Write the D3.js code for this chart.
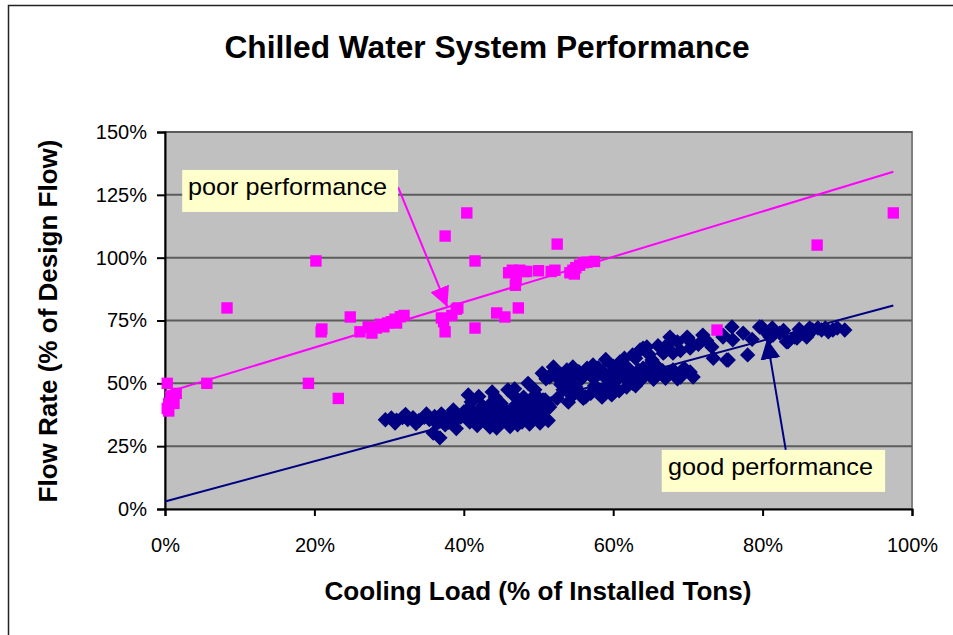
<!DOCTYPE html>
<html>
<head>
<meta charset="utf-8">
<script src="https://cdn.jsdelivr.net/npm/d3@7"></script>
<style>
    body { margin: 0; background: #fff; }
    svg { display: block; font-family: 'Liberation Sans', Arial, sans-serif; }
</style>
</head>
<body>
<div id="chart"></div>
<script>
// tick values (% of installed tons / % of design flow)
const xTicks = [0, 20, 40, 60, 80, 100];
const yTicks = [0, 25, 50, 75, 100, 125, 150];

// poor performance: [cooling load %, flow rate %]
const poorData = [
    [0.3, 50], [0.3, 40], [0.5, 42], [0.8, 45], [1.5, 46], [1.2, 42], [0.5, 39], [0.8, 43.5],
    [5.6, 50], [8.3, 80], [19.2, 50], [20.2, 98.7], [20.9, 70.5], [21, 71.6], [23.2, 44], [24.8, 76.4],
    [26.1, 70.5], [27.2, 72.5], [27.7, 70], [28.3, 72], [28.8, 73.5], [29.3, 72.5], [29.8, 74],
    [30.3, 74.5], [30.8, 75.5], [31.5, 76.5], [32, 77], [31, 74],
    [37, 76], [37.5, 70.5], [37.3, 74.5], [37.5, 108.6], [38.4, 77], [39, 79.5], [39.2, 80],
    [40.4, 117.8], [41.5, 98.7], [41.5, 72], [44.4, 78], [45.5, 76.4], [47.3, 80],
    [46, 94], [46.5, 95], [47, 93.5], [47.5, 95], [48, 94.5], [46.9, 89], [47, 91], [48.4, 94.5],
    [50, 94.8], [51.7, 94.5], [52.2, 95], [52.5, 105.4],
    [54.2, 94], [54.6, 95], [55, 96], [55.5, 97], [56, 98], [56.5, 98.2], [57.5, 98.5], [54.8, 93.5],
    [73.9, 71.2], [87.3, 105], [97.5, 117.8]
];

// good performance: [cooling load %, flow rate %]
const goodData = [
    // low-load band
    [29.5, 35.5], [30.3, 36.2], [31, 35.3], [31.8, 36.4], [32.5, 35.6], [33.2, 36.3], [34, 35.2],
    [34.7, 36.5], [35.4, 35.6], [36.1, 36.8], [36.8, 35.2], [37.5, 36.3], [38.2, 37.2], [38.9, 35.4],
    [39.6, 36.6], [40.3, 37.8], [40.8, 34.6], [41.5, 36.2], [42.2, 38.2], [42.9, 35.2], [43.6, 36.8],
    [44.3, 34.4], [45, 37.5], [45.7, 35.5], [46.4, 38.4], [47.1, 36.2], [47.8, 34.6], [48.5, 37.6],
    [49.2, 35.5], [49.9, 38.8], [50.6, 36.4], [51.3, 35.2], [38, 34.5], [40, 38.6], [42, 35.5],
    [44, 39.2], [46, 35], [48, 39.5], [43, 37.8], [41, 36.8], [39, 38], [37, 37.8],
    [30.8, 34.2], [32.2, 37.6], [33.6, 34], [35, 37.8], [36.4, 34], [38.6, 39.4], [40.6, 40],
    [41.2, 38.8], [42.6, 40.5], [44.8, 40.8], [45.5, 39.6], [46.8, 41], [48.2, 41.5], [49, 42],
    [47.5, 39], [43.8, 42.5], [44.6, 33.8], [46.2, 32.8], [48.8, 33.8], [50.2, 34.2], [50.8, 38.8],
    [35.9, 30.2], [36.8, 28.3], [39, 32], [43.5, 32.6], [44.4, 32.2], [37.5, 33.5], [41.8, 33.2], [47.2, 33.5],
    [40.6, 45.4], [41, 42.6], [43.8, 46.6], [44.2, 44.6], [45.9, 47.4], [46.6, 45.4], [48.6, 50],
    [49.5, 47.4], [51.5, 52.5], [52, 54], [51.3, 41.4], [50.6, 43.4], [49.3, 40.6], [42.5, 41],
    [45, 42], [47.5, 43], [43, 39.8], [49.6, 45.5], [48, 44.5], [46.8, 47.8], [42, 44.8],
    // transition
    [49.3, 44.6], [50.2, 40.6], [51.1, 42], [50.9, 43.4], [51.5, 40.6], [53.3, 47.4], [53.8, 48],
    [55.6, 46], [56, 44], [56.3, 44.6], [58.2, 47.4], [59.8, 45.4], [60, 50], [61.8, 48.5],
    [61.8, 51.3], [62.6, 50], [57, 46], [54.5, 45], [64, 52.5], [65.5, 53],
    [52.5, 44], [54, 42.5], [55, 48.5], [57.5, 49], [59, 48], [58.5, 44.5], [60.8, 47], [63, 49], [53, 49.5],
    // mid-load band
    [50.5, 54], [51.5, 53], [52.3, 55], [53, 53.6], [53.8, 55.3], [54.6, 53.2], [55.4, 54.6],
    [56.2, 53.4], [57, 55.2], [57.8, 53.8], [58.6, 54.8], [59.4, 53.2], [60.2, 55], [61, 53.6],
    [61.8, 54.8], [62.6, 53.2], [63.4, 55.2], [64.2, 53.6], [65, 54.6], [65.8, 53.2], [66.6, 55],
    [67.4, 53.8], [68.2, 54.6], [69, 52.5], [70.3, 54.5], [70.7, 52.5], [67.6, 54], [68, 55.3],
    [54.6, 56.5], [58, 56.2], [62, 56],
    [51, 51.8], [52.6, 52], [54.2, 51.6], [55.8, 52], [57.4, 51.8], [59, 52], [60.6, 51.8], [62.2, 52],
    [63.8, 51.6], [65.4, 51.6], [67, 52], [68.6, 51.8], [52, 56.5], [56.5, 56], [60, 56.8], [64, 56],
    [66, 56.4], [69.5, 56],
    // high-load
    [57.3, 57.3], [60.9, 58.5], [62.6, 61.3], [63.6, 63.3], [64, 64], [64.5, 64.5], [65.2, 59.3],
    [65.2, 58.5], [66.7, 62], [66.9, 62.5], [67.2, 65.3], [67.6, 68.4], [68, 62], [69.9, 68.4],
    [70, 68], [70.3, 64], [70.5, 66], [72, 69.2], [73.2, 64.5], [73.4, 60], [74.7, 69.2],
    [74.7, 68.4], [75.2, 59.3], [75.4, 59.3], [75.9, 72.4], [76, 67.3], [77.4, 70], [78, 61.3],
    [79.6, 72.4], [79.9, 72.4], [81, 68.4], [81.3, 72], [81.4, 69.2], [82.3, 70], [83.2, 66.5],
    [83.4, 66.5], [84.3, 68.4], [84.6, 68], [85.4, 70], [85.9, 68.4], [86.3, 72], [86.7, 71.2],
    [87.4, 72], [87.9, 71.2], [88.4, 72], [89.4, 71.2], [91, 71.2], [59, 59.5], [61, 57], [63, 60],
    [61.5, 60], [64.8, 61.5], [66, 65], [68.6, 66.5], [69, 63], [71.4, 65.5], [72.5, 67],
    [78.6, 67.5], [80.4, 70.5], [82.8, 71], [84.9, 71.5], [86, 69], [88.8, 70.5], [90, 72]
];

// linear trend lines (start and end of fitted line)
const trendLoad = [0, 97.5];
const poorTrend = [46.2, 134.2];
const goodTrend = [3, 81];

const noteLabels = ['poor performance', 'good performance'];

const width = 953, height = 635;
const plot = { left: 165, right: 912, top: 132, bottom: 509 };

const svg = d3.select('#chart').append('svg')
    .attr('width', width)
    .attr('height', height);

// outer chart frame
svg.append('rect')
    .attr('x', 8.5).attr('y', 5.5)
    .attr('width', 960).attr('height', 660)
    .attr('fill', 'none')
    .attr('stroke', '#222')
    .attr('stroke-width', 1.5);

const x = d3.scaleLinear().domain([0, 100]).range([plot.left, plot.right]);
const y = d3.scaleLinear().domain([0, 150]).range([plot.bottom, plot.top]);

// plot area background
svg.append('rect')
    .attr('x', plot.left).attr('y', plot.top)
    .attr('width', plot.right - plot.left)
    .attr('height', plot.bottom - plot.top)
    .attr('fill', '#c0c0c0')
    .attr('stroke', '#808080')
    .attr('stroke-width', 2);

// gridlines
svg.append('g')
    .selectAll('line')
    .data(yTicks.filter(d => d > 0))
    .join('line')
    .attr('x1', plot.left).attr('x2', plot.right)
    .attr('y1', d => y(d)).attr('y2', d => y(d))
    .attr('stroke', '#5c5c5c')
    .attr('stroke-width', 2);

// axes
const yAxis = d3.axisLeft(y)
    .tickValues(yTicks)
    .tickSize(8)
    .tickPadding(10)
    .tickFormat(d => d + '%');

const xAxis = d3.axisBottom(x)
    .tickValues(xTicks)
    .tickSize(7)
    .tickPadding(22)
    .tickFormat(d => d + '%');

const yAxisG = svg.append('g')
    .attr('transform', `translate(${plot.left},0)`)
    .call(yAxis);

const xAxisG = svg.append('g')
    .attr('transform', `translate(0,${plot.bottom})`)
    .call(xAxis);

[xAxisG, yAxisG].forEach(g => {
    g.select('.domain').attr('stroke', '#000').attr('stroke-width', 2);
    g.selectAll('.tick line').attr('stroke', '#000').attr('stroke-width', 2);
    g.selectAll('.tick text')
        .attr('fill', '#000')
        .style('font-size', '20px')
        .style('font-family', "'Liberation Sans', Arial, sans-serif");
});

// good performance points (navy diamonds)
svg.append('g')
    .selectAll('path')
    .data(goodData)
    .join('path')
    .attr('d', d3.symbol().type(d3.symbolSquare).size(118))
    .attr('transform', d => `translate(${x(d[0])},${y(d[1])}) rotate(45)`)
    .attr('fill', '#000080');

// poor performance points (magenta squares)
svg.append('g')
    .selectAll('path')
    .data(poorData)
    .join('path')
    .attr('d', d3.symbol().type(d3.symbolSquare).size(130))
    .attr('transform', d => `translate(${x(d[0])},${y(d[1])})`)
    .attr('fill', '#ff00ff');

// trend lines
const line = d3.line()
    .x(d => x(d[0]))
    .y(d => y(d[1]));

svg.append('path')
    .datum(trendLoad.map((d, i) => [d, poorTrend[i]]))
    .attr('d', line)
    .attr('fill', 'none')
    .attr('stroke', '#ff00ff')
    .attr('stroke-width', 2);

svg.append('path')
    .datum(trendLoad.map((d, i) => [d, goodTrend[i]]))
    .attr('d', line)
    .attr('fill', 'none')
    .attr('stroke', '#000080')
    .attr('stroke-width', 2);

// arrow heads
const defs = svg.append('defs');
[['poorHead', '#ff00ff'], ['goodHead', '#000080']].forEach(([id, col]) => {
    defs.append('marker')
        .attr('id', id)
        .attr('viewBox', '0 -10 20 20')
        .attr('refX', 20).attr('refY', 0)
        .attr('markerWidth', 20).attr('markerHeight', 20)
        .attr('markerUnits', 'userSpaceOnUse')
        .attr('orient', 'auto')
        .append('path')
        .attr('d', 'M0,-10L20,0L0,10Z')
        .attr('fill', col);
});

// annotations: box in data units [x0, y0, x1, y1], arrow from -> to
const notes = [
    { text: noteLabels[0], box: [2.3, 134.9, 31.2, 118.2], from: [31.2, 128.1], to: [37.8, 80.4],
      color: '#ff00ff', marker: 'poorHead', textX: 188, textY: 195, textLen: 199 },
    { text: noteLabels[1], box: [66.5, 23.5, 96.4, 6.8], from: [83.1, 23.5], to: [80.6, 67.6],
      color: '#000080', marker: 'goodHead', textX: 668, textY: 475, textLen: 205 }
];

notes.forEach(n => {
    svg.append('line')
        .attr('x1', x(n.from[0])).attr('y1', y(n.from[1]))
        .attr('x2', x(n.to[0])).attr('y2', y(n.to[1]))
        .attr('stroke', n.color)
        .attr('stroke-width', 2)
        .attr('marker-end', `url(#${n.marker})`);

    svg.append('rect')
        .attr('x', x(n.box[0])).attr('y', y(n.box[1]))
        .attr('width', x(n.box[2]) - x(n.box[0]))
        .attr('height', y(n.box[3]) - y(n.box[1]))
        .attr('fill', '#ffffcc');

    svg.append('text')
        .attr('x', n.textX).attr('y', n.textY)
        .attr('textLength', n.textLen)
        .attr('lengthAdjust', 'spacingAndGlyphs')
        .style('font-size', '24px')
        .text(n.text);
});

// titles
svg.append('text')
    .attr('x', 487).attr('y', 58)
    .attr('text-anchor', 'middle')
    .attr('textLength', 525)
    .attr('lengthAdjust', 'spacingAndGlyphs')
    .style('font-size', '31px')
    .style('font-weight', 'bold')
    .text('Chilled Water System Performance');

svg.append('text')
    .attr('x', 538).attr('y', 600)
    .attr('text-anchor', 'middle')
    .attr('textLength', 427)
    .attr('lengthAdjust', 'spacingAndGlyphs')
    .style('font-size', '26px')
    .style('font-weight', 'bold')
    .text('Cooling Load (% of Installed Tons)');

svg.append('text')
    .attr('transform', 'translate(57,321) rotate(-90)')
    .attr('text-anchor', 'middle')
    .attr('textLength', 363)
    .attr('lengthAdjust', 'spacingAndGlyphs')
    .style('font-size', '26px')
    .style('font-weight', 'bold')
    .text('Flow Rate (% of Design Flow)');
</script>
</body>
</html>
